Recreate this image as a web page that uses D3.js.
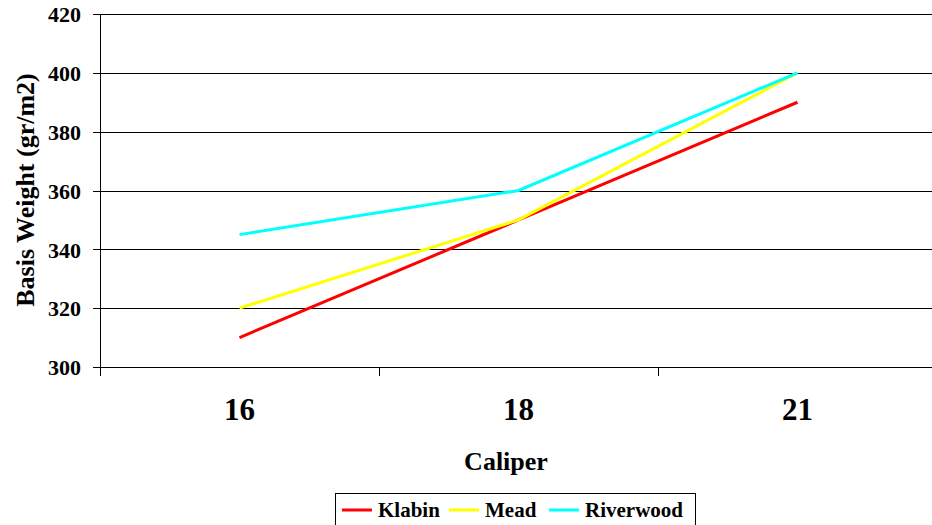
<!DOCTYPE html>
<html lang="en">
<head>
    <meta charset="UTF-8">
    <title>Basis Weight vs Caliper</title>
    <script src="https://d3js.org/d3.v7.min.js"></script>
    <style>
        body { margin: 0; background: #fff; }
        svg text { font-family: "Liberation Serif", "Times New Roman", "DejaVu Serif", serif !important; font-weight: bold; }
        .grid line { stroke: #000; shape-rendering: crispEdges; }
        .grid path { display: none; }
        .axis path, .axis line { stroke: #000; shape-rendering: crispEdges; }
    </style>
</head>
<body>
    <svg width="932" height="525"></svg>
    <script>
        // data
        const calipers = ["16", "18", "21"];
        const klabin = [310, 350, 390];
        const mead = [320, 350, 400];
        const riverwood = [345, 360, 400];
        const yTicks = [300, 320, 340, 360, 380, 400, 420];

        const series = [
            { name: "Klabin", color: "#ff0000", values: klabin },
            { name: "Mead", color: "#ffff00", values: mead },
            { name: "Riverwood", color: "#00ffff", values: riverwood }
        ];

        const svg = d3.select("svg");
        const plotLeft = 100, plotRight = 937, plotTop = 14, plotBottom = 367;

        const x = d3.scaleBand().domain(calipers).range([plotLeft, plotRight]);
        const y = d3.scaleLinear().domain([300, 420]).range([plotBottom, plotTop]);

        // horizontal gridlines
        svg.append("g")
            .attr("class", "grid")
            .attr("transform", `translate(${plotLeft},0)`)
            .call(d3.axisLeft(y).tickValues(yTicks).tickSize(-(plotRight - plotLeft)).tickFormat(""));

        // y axis
        const yAxis = svg.append("g")
            .attr("class", "axis")
            .attr("transform", `translate(${plotLeft},0)`)
            .call(d3.axisLeft(y).tickValues(yTicks).tickSize(7).tickPadding(12));
        yAxis.attr("font-family", null);
        yAxis.selectAll("text").style("font-size", "22px").attr("dy", "0.35em");
        yAxis.select(".domain").attr("d", `M0,${plotTop}V${plotBottom + 9}`);

        // x axis: ticks at band boundaries
        const xAxis = svg.append("g")
            .attr("class", "axis")
            .attr("transform", `translate(0,${plotBottom})`);
        xAxis.append("line").attr("x1", plotLeft).attr("x2", plotRight).attr("y1", 0).attr("y2", 0);
        const bounds = calipers.map(c => x(c)).concat([plotRight]);
        xAxis.selectAll(".tk").data(bounds).join("line")
            .attr("class", "tk")
            .attr("x1", d => d).attr("x2", d => d)
            .attr("y1", 0).attr("y2", 9);
        xAxis.selectAll(".lbl").data(calipers).join("text")
            .attr("class", "lbl")
            .attr("x", d => x(d) + x.bandwidth() / 2)
            .attr("y", 53)
            .attr("text-anchor", "middle")
            .style("font-size", "31px")
            .text(d => d);

        // axis titles
        svg.append("text")
            .attr("x", 506).attr("y", 470)
            .attr("text-anchor", "middle")
            .style("font-size", "26px")
            .text("Caliper");

        svg.append("text")
            .attr("transform", "translate(34,190) rotate(-90)")
            .attr("text-anchor", "middle")
            .style("font-size", "26px")
            .text("Basis Weight (gr/m2)");

        // lines
        const line = d3.line()
            .x((d, i) => x(calipers[i]) + x.bandwidth() / 2)
            .y(d => y(d));

        svg.append("g").selectAll("path").data(series).join("path")
            .attr("d", d => line(d.values))
            .attr("fill", "none")
            .attr("stroke", d => d.color)
            .attr("stroke-width", 3);

        // legend
        const legend = svg.append("g");
        legend.append("rect")
            .attr("x", 335.5).attr("y", 493.5)
            .attr("width", 360).attr("height", 40)
            .attr("fill", "#fff").attr("stroke", "#000");
        const legendX = [342, 449, 549];
        const items = legend.selectAll(".item").data(series).join("g")
            .attr("class", "item")
            .attr("transform", (d, i) => `translate(${legendX[i]},0)`);
        items.append("line")
            .attr("x1", 0).attr("x2", 30)
            .attr("y1", 510).attr("y2", 510)
            .attr("stroke", d => d.color)
            .attr("stroke-width", 3);
        items.append("text")
            .attr("x", 36).attr("y", 517)
            .style("font-size", "21px")
            .text(d => d.name);
    </script>
</body>
</html>
